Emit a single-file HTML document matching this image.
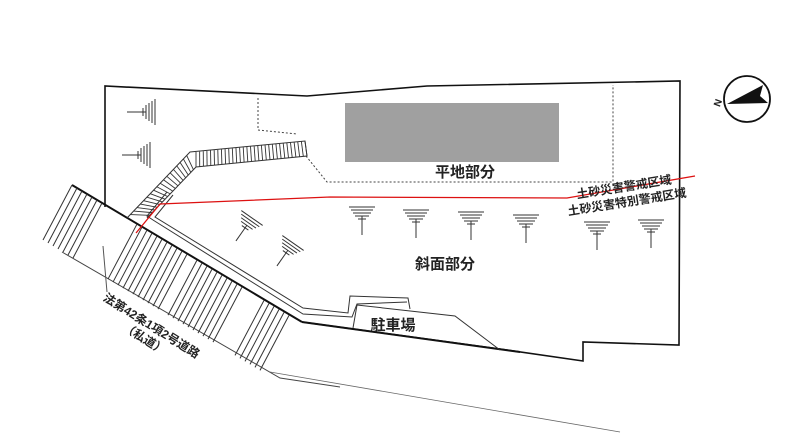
<!DOCTYPE html>
<html><head><meta charset="utf-8"><style>
html,body{margin:0;padding:0;background:#fff;}
svg{display:block;}
text{font-family:"Liberation Sans","Noto Sans CJK JP",sans-serif;font-weight:bold;fill:#222;}
</style></head><body>
<svg width="800" height="437" viewBox="0 0 800 437" xmlns="http://www.w3.org/2000/svg">
<defs>
<g id="tree" stroke="#333" stroke-width="1" fill="none">
<line x1="-13" y1="0" x2="13" y2="0"/>
<line x1="-11" y1="3" x2="11" y2="3"/>
<line x1="-9" y1="6" x2="9" y2="6"/>
<line x1="-7" y1="9" x2="7" y2="9"/>
<line x1="-4" y1="12" x2="4" y2="12"/>
<line x1="0" y1="9" x2="0" y2="28"/>
</g>
</defs>
<rect x="345" y="103" width="214" height="59" fill="#a0a0a0"/>
<polyline points="105,207 105,86 307,96 427,86 680,81 679,345 583,342 583,361 500,349 302,322" fill="none" stroke="#111" stroke-width="1.6"/>
<polyline points="258,98 258,130 297,134" fill="none" stroke="#444" stroke-width="1" stroke-dasharray="2,2"/>
<polyline points="306,156 327,182 613,182 613,85" fill="none" stroke="#444" stroke-width="1" stroke-dasharray="2,2"/>
<line x1="72" y1="185" x2="302" y2="322" stroke="#111" stroke-width="2"/>
<line x1="302" y1="322" x2="520" y2="352" stroke="#111" stroke-width="2"/>
<polyline points="62,252 280,378 340,387" fill="none" stroke="#444" stroke-width="1"/>
<polyline points="270,372 620,432" fill="none" stroke="#666" stroke-width="0.8"/>
<line x1="103" y1="246" x2="107" y2="292" stroke="#555" stroke-width="1"/>
<g stroke="#333" stroke-width="1" id="hatch"></g>
<polyline points="127,218 190,152 305,141 307,156 196,167 147,218" fill="none" stroke="#333" stroke-width="1"/>
<g id="stairs" stroke="#333" stroke-width="0.9"></g>
<polyline points="173,195 155,217 303,308 348,313 350,296 408,298 410,309" fill="none" stroke="#333" stroke-width="1"/>
<polyline points="167,192 147,216 153,220 303,314 352,317 357,304 407,302" fill="none" stroke="#333" stroke-width="1"/>
<polyline points="353,328 357,305 455,316 500,350" fill="none" stroke="#333" stroke-width="1"/>
<polyline points="136,233 160,204 330,197 567,198 695,176" fill="none" stroke="#d11" stroke-width="1.3"/>
<use href="#tree" transform="translate(362,207)"/>
<use href="#tree" transform="translate(416,210)"/>
<use href="#tree" transform="translate(471,212)"/>
<use href="#tree" transform="translate(526,215)"/>
<use href="#tree" transform="translate(597,222)"/>
<use href="#tree" transform="translate(651,220)"/>
<use href="#tree" transform="translate(155,112) rotate(90)"/>
<use href="#tree" transform="translate(150,155) rotate(90)"/>
<use href="#tree" transform="translate(252,218) rotate(35)"/>
<use href="#tree" transform="translate(293,243) rotate(35)"/>
<circle cx="747" cy="99" r="23" fill="none" stroke="#111" stroke-width="1.8"/>
<polygon points="727,104 763,85 760,96 768,103" fill="#111"/>
<text x="716" y="110" font-size="10" font-weight="normal" transform="rotate(-70 716 106)">N</text>
<text x="465" y="177" font-size="15" text-anchor="middle">平地部分</text>
<text x="445" y="269" font-size="15" text-anchor="middle">斜面部分</text>
<text x="393" y="330" font-size="15" text-anchor="middle">駐車場</text>
<text x="624" y="191" font-size="12" text-anchor="middle" transform="rotate(-9 624 187)">土砂災害警戒区域</text>
<text x="627" y="206" font-size="12" text-anchor="middle" transform="rotate(-9 627 202)">土砂災害特別警戒区域</text>
<text x="152" y="330" font-size="12" text-anchor="middle" transform="rotate(32 152 325)">法第42条1項2号道路</text>
<text x="145" y="343" font-size="12" text-anchor="middle" transform="rotate(32 145 338)">（私道）</text>
</svg>
<script>
var ns="http://www.w3.org/2000/svg";
var h=document.getElementById("hatch");
[[72,103],[137,187],[197,243],[264,290]].forEach(function(b){
 for(var x=b[0];x<=b[1];x+=5){var yu=185+0.601*(x-72);
 var l=document.createElementNS(ns,"line");l.setAttribute("x1",x);l.setAttribute("y1",yu);l.setAttribute("x2",x-29);l.setAttribute("y2",yu+55);h.appendChild(l);}
});
var s=document.getElementById("stairs");
function ln(a,b,c,d){var l=document.createElementNS(ns,"line");l.setAttribute("x1",a);l.setAttribute("y1",b);l.setAttribute("x2",c);l.setAttribute("y2",d);s.appendChild(l);}
for(var i=0;i<=30;i++){var t=i/30;ln(196+t*109,152-t*11,196+t*111,167-t*11);}
for(var i=1;i<=18;i++){var t=i/19;ln(190-t*63,152+t*66,196-t*49,167+t*51);}
</script>
</body></html>
